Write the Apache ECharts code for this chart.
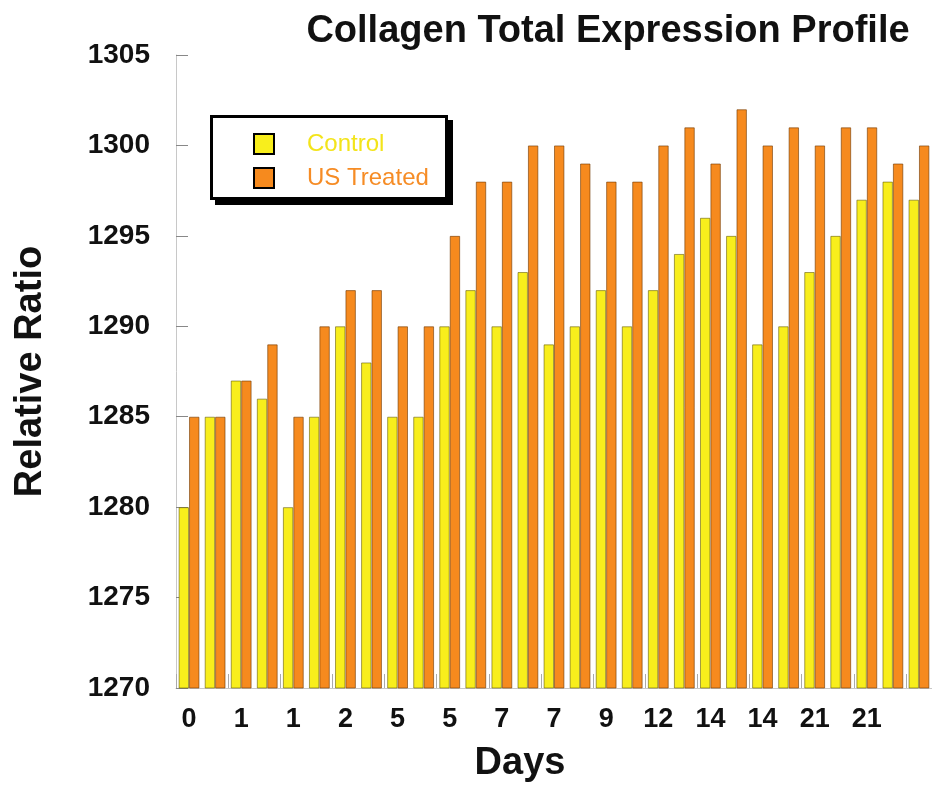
<!DOCTYPE html>
<html>
<head>
<meta charset="utf-8">
<title>Collagen Total Expression Profile</title>
<script src="https://cdn.jsdelivr.net/npm/echarts@6/dist/echarts.min.js"></script>
<style>
  html, body { margin: 0; padding: 0; background: #ffffff; }
  #chart { width: 932px; height: 792px; }
</style>
</head>
<body>
<div id="chart"></div>
<script>
// Day labels under every other pair of bars (29 sampling points)
const dayLabels = ['0', '', '1', '', '1', '', '2', '', '5', '', '5', '', '7', '', '7', '',
                   '9', '', '12', '', '14', '', '14', '', '21', '', '21', '', ''];

// Relative ratio per sampling point
const controlValues = [1280, 1285, 1287, 1286, 1280, 1285, 1290, 1288, 1285, 1285,
                       1290, 1292, 1290, 1293, 1289, 1290, 1292, 1290, 1292, 1294,
                       1296, 1295, 1289, 1290, 1293, 1295, 1297, 1298, 1297];
const treatedValues = [1285, 1285, 1287, 1289, 1285, 1290, 1292, 1292, 1290, 1290,
                       1295, 1298, 1298, 1300, 1300, 1299, 1298, 1298, 1300, 1301,
                       1299, 1302, 1300, 1301, 1300, 1301, 1301, 1299, 1300];

const yMin = 1270, yMax = 1305, yStep = 5;

const FONT = '"Liberation Sans", Arial, Helvetica, sans-serif';
const YELLOW = '#f8ee1c';
const ORANGE = '#f68a1e';

const chart = echarts.init(document.getElementById('chart'), null, { renderer: 'canvas' });

chart.setOption({
  backgroundColor: '#ffffff',
  animation: false,
  title: {
    text: 'Collagen Total Expression Profile',
    left: 603,
    top: 8,
    textAlign: 'center',
    textStyle: { fontFamily: FONT, fontSize: 38, fontWeight: 'bold', color: '#111' }
  },
  // Legend frame with a solid drop shadow
  graphic: [
    {
      type: 'rect', z: 1,
      shape: { x: 215, y: 120, width: 238, height: 85 },
      style: { fill: '#000000' }
    },
    {
      type: 'rect', z: 1,
      shape: { x: 211.5, y: 116.5, width: 235, height: 82 },
      style: { fill: '#ffffff', stroke: '#000000', lineWidth: 3 }
    }
  ],
  legend: {
    orient: 'vertical',
    left: 210,
    top: 115,
    z: 5,
    padding: [17, 22, 15, 43],
    backgroundColor: 'transparent',
    icon: 'rect',
    itemWidth: 20,
    itemHeight: 20,
    itemGap: 10,
    itemStyle: { borderColor: '#000000', borderWidth: 2 },
    textStyle: { fontFamily: FONT, fontSize: 24, lineHeight: 21, padding: [0, 0, 0, 28] },
    data: [
      { name: 'Control', textStyle: { color: '#f3e41a' } },
      { name: 'US Treated', textStyle: { color: '#f68c25' } }
    ]
  },
  grid: { left: 176, right: 0, top: 55, bottom: 104, containLabel: false },
  xAxis: {
    type: 'category',
    data: dayLabels,
    name: 'Days',
    nameLocation: 'middle',
    nameGap: 57,
    nameTextStyle: { fontFamily: FONT, fontSize: 38, fontWeight: 'bold', color: '#111', padding: [0, 68, 0, 0] },
    axisLine: { lineStyle: { color: '#c8c8c8', width: 1 } },
    axisTick: { show: true, inside: true, length: 14, interval: 1, lineStyle: { color: '#aaaaaa' } },
    axisLabel: { interval: 0, margin: 18, fontFamily: FONT, fontSize: 27, fontWeight: 'bold', color: '#111' }
  },
  yAxis: {
    type: 'value',
    min: yMin,
    max: yMax,
    interval: yStep,
    name: 'Relative Ratio',
    nameLocation: 'middle',
    nameRotate: 90,
    nameGap: 126,
    nameTextStyle: { fontFamily: FONT, fontSize: 38, fontWeight: 'bold', color: '#111' },
    axisLine: { show: true, lineStyle: { color: '#c8c8c8', width: 1 } },
    axisTick: { show: true, inside: true, length: 12, lineStyle: { color: '#888888' } },
    splitLine: { show: false },
    axisLabel: {
      margin: 26, fontFamily: FONT, fontSize: 28, fontWeight: 'bold', color: '#111',
      padding: [0, 0, 7, 0],
      formatter: (v) => String(v)
    }
  },
  series: [
    {
      name: 'Control',
      type: 'bar',
      data: controlValues,
      barGap: '0%',
      barCategoryGap: '20%',
      itemStyle: { color: YELLOW, borderColor: 'rgba(90,80,0,0.55)', borderWidth: 1 }
    },
    {
      name: 'US Treated',
      type: 'bar',
      data: treatedValues,
      barGap: '0%',
      barCategoryGap: '20%',
      itemStyle: { color: ORANGE, borderColor: 'rgba(110,55,0,0.6)', borderWidth: 1 }
    }
  ]
});
</script>
</body>
</html>
